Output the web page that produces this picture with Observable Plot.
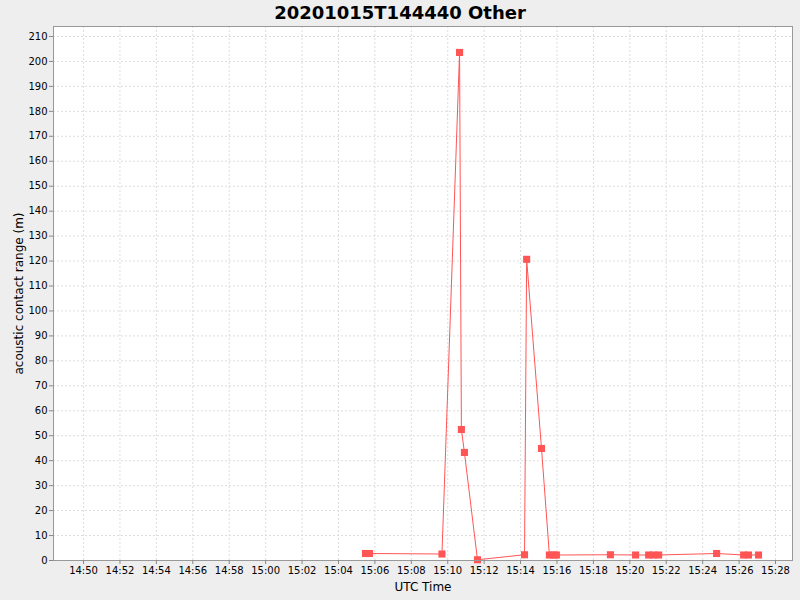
<!DOCTYPE html>
<html>
<head>
<meta charset="utf-8">
<script src="https://cdn.jsdelivr.net/npm/d3@7"></script>
<script src="https://cdn.jsdelivr.net/npm/@observablehq/plot@0.6"></script>
<style>
  html, body { margin: 0; padding: 0; background: #eeeeee; }
  #wrap { width: 800px; height: 600px; background: #eeeeee; font-family: "DejaVu Sans", sans-serif; }
  #title { height: 24px; line-height: 26px; text-align: center; font-size: 18px; font-weight: bold; color: #000; }
  svg { display: block; }
</style>
</head>
<body>
<div id="wrap">
  <div id="title">20201015T144440 Other</div>
  <div id="chart"></div>
</div>
<script>
const times = [
  "15:05:29", "15:05:42", "15:09:41", "15:10:39", "15:10:45", "15:10:55",
  "15:11:38", "15:14:13", "15:14:20", "15:15:09", "15:15:35", "15:15:49",
  "15:15:58", "15:18:56", "15:20:19", "15:21:02", "15:21:18", "15:21:35",
  "15:24:46", "15:26:15", "15:26:31", "15:27:04"
];
const ranges = [
  2.8, 2.8, 2.6, 203.6, 52.5, 43.3,
  0.3, 2.3, 120.7, 44.9, 2.2, 2.2,
  2.2, 2.3, 2.2, 2.2, 2.2, 2.2,
  2.8, 2.2, 2.2, 2.2
];
const day = "2020-10-15";
const xDomain = ["14:48:21", "15:28:56"];
const yDomain = [0, 214];

const parse = t => new Date(`${day}T${t}Z`);
const data = times.map((t, i) => ({ t: parse(t), v: ranges[i] }));

const chart = Plot.plot({
  width: 800,
  height: 576,
  marginTop: 2,
  marginBottom: 40,
  marginLeft: 53,
  marginRight: 8,
  style: { fontFamily: "DejaVu Sans, sans-serif", fontSize: "10px", background: "#eeeeee", color: "#000" },
  x: { type: "utc", domain: xDomain.map(parse) },
  y: { domain: yDomain },
  marks: [
    Plot.frame({ fill: "white", stroke: null }),
    Plot.gridX({ ticks: d3.utcMinute.every(2), stroke: "#dddddd", strokeOpacity: 1, strokeDasharray: "2,2" }),
    Plot.gridY({ ticks: d3.range(0, 211, 10), stroke: "#dddddd", strokeOpacity: 1, strokeDasharray: "2,2" }),
    Plot.line(data, { x: "t", y: "v", stroke: "#ff5555", strokeWidth: 1 }),
    Plot.dot(data, { x: "t", y: "v", symbol: "square", r: 4, fill: "#ff5555", stroke: null }),
    Plot.frame({ stroke: "#999999" }),
    Plot.axisX({
      ticks: d3.utcMinute.every(2),
      tickFormat: d3.utcFormat("%H:%M"),
      tickSize: 4,
      tickPadding: 2,
      stroke: "#888888",
      label: "UTC Time",
      labelAnchor: "center",
      labelArrow: "none",
      labelOffset: 30,
      fontSize: 10
    }),
    Plot.axisY({
      ticks: d3.range(0, 211, 10),
      tickSize: 4,
      tickPadding: 2,
      stroke: "#888888",
      label: "acoustic contact range (m)",
      labelAnchor: "center",
      labelArrow: "none",
      labelOffset: 39,
      fontSize: 10
    })
  ]
});
d3.select(chart).selectAll("[aria-label='x-axis label'] text, [aria-label='y-axis label'] text").style("font-size", "12px");
document.getElementById("chart").appendChild(chart);
</script>
</body>
</html>
